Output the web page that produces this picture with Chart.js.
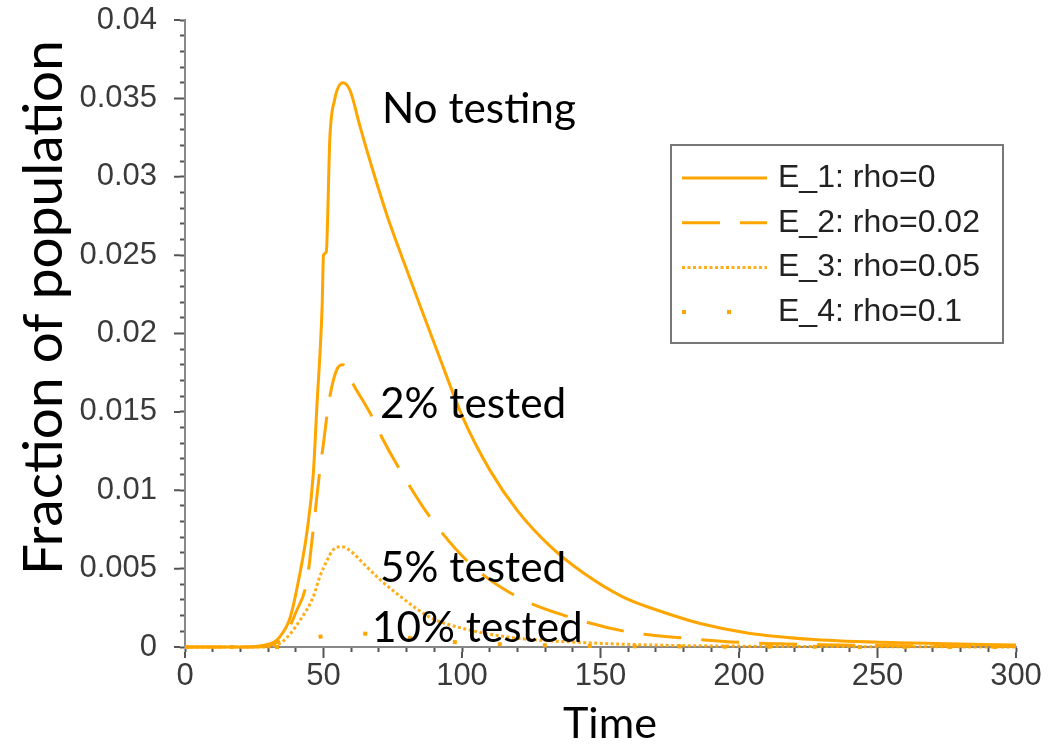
<!DOCTYPE html>
<html>
<head>
<meta charset="utf-8">
<script src="https://cdn.jsdelivr.net/npm/chart.js@4.4.0/dist/chart.umd.min.js"></script>
<style>
  html, body { margin: 0; padding: 0; background: #fff; }
</style>
</head>
<body>
<canvas id="chart" width="1054" height="744"></canvas>
<script>
// --- data (time, fraction of population) ---
const timeE1 = [0, 20, 28, 32, 34, 38, 41.5, 44, 46.3, 47.6, 49.5, 50, 51, 52.3, 54, 57, 59.6, 63.2, 68, 73, 78.7, 85, 91, 100.4, 110, 120, 132, 144, 158, 173, 186, 203, 227, 263, 300];
const fracE1 = [0, 0, 0.0001, 0.0003, 0.0006, 0.0019, 0.0047, 0.0073, 0.011, 0.0153, 0.0217, 0.025, 0.0252, 0.0325, 0.0349, 0.036, 0.0355, 0.0332, 0.0303, 0.0275, 0.0247, 0.0217, 0.0189, 0.0146, 0.0113, 0.0087, 0.0064, 0.0047, 0.0032, 0.0022, 0.0015, 0.0009, 0.00048, 0.00025, 0.00012];

const timeE2 = [0, 25, 32, 36, 40, 44, 46.3, 48.7, 50, 51.2, 52.3, 54.8, 57, 60.6, 67.5, 71, 77.6, 88.4, 103, 120, 139, 160, 180, 200, 230, 260, 300];
const fracE2 = [0, 0, 0.0002, 0.0007, 0.0022, 0.0042, 0.0075, 0.0113, 0.013, 0.0147, 0.016, 0.0177, 0.018, 0.0168, 0.0147, 0.0134, 0.0113, 0.0083, 0.0053, 0.0032, 0.0019, 0.00096, 0.00057, 0.0003, 0.00015, 0.00008, 0.00004];

const timeE3 = [0, 30, 34, 36.8, 41.5, 46.3, 48.7, 51.2, 53.5, 56.6, 60.6, 64, 70.4, 76.5, 88.4, 100, 118, 142, 170, 220, 300];
const fracE3 = [0, 0, 0.0002, 0.0006, 0.0017, 0.0032, 0.0045, 0.0055, 0.0062, 0.0064, 0.006, 0.0054, 0.0043, 0.0034, 0.0019, 0.0012, 0.0006, 0.0003, 0.00012, 0.00004, 0];

const timeE4 = [0, 35, 40, 45, 50, 55, 60, 65, 75, 90, 110, 150, 200, 300];
const fracE4 = [0, 0, 0.0002, 0.0005, 0.0007, 0.00085, 0.0009, 0.00085, 0.0007, 0.0004, 0.0002, 0.00006, 0.00002, 0];

const seriesLabels = ['E_1: rho=0', 'E_2: rho=0.02', 'E_3: rho=0.05', 'E_4: rho=0.1'];

const noteTexts = ['No testing', '2% tested', '5% tested', '10% tested'];
const noteTime = [71.1, 70.4, 70.4, 67.5];
const noteFrac = [0.0334, 0.0146, 0.00415, 0.00032];

const xTitle = 'Time';
const yTitle = 'Fraction of population';

// --- styles ---
const ORANGE = '#FFA500';
const TICK_FONT = '"Liberation Sans", Arial, sans-serif';
const NOTE_FONT = 'Lato, "Open Sans", sans-serif';

function pairs(xs, ys) {
    return xs.map((x, i) => ({ x: x, y: ys[i] }));
}

function fitSize(ctx, text, family, width) {
    ctx.font = `100px ${family}`;
    return 100 * width / ctx.measureText(text).width;
}

// keep the plot box where the reference has it: no extra padding from tick labels
function noLabelPadding(scale) {
    scale.paddingTop = 0;
    scale.paddingBottom = 0;
    scale.paddingLeft = 0;
    scale.paddingRight = 0;
}

const baseLine = {
    borderColor: ORANGE,
    borderWidth: 3,
    pointRadius: 0,
    fill: false,
    cubicInterpolationMode: 'monotone',
    borderCapStyle: 'butt',
    clip: 4
};

const decorPlugin = {
    id: 'decor',
    afterDraw(chart) {
        const ctx = chart.ctx;
        const xs = chart.scales.x;
        const ys = chart.scales.y;
        const area = chart.chartArea;
        ctx.save();

        // longer major ticks
        ctx.strokeStyle = '#555';
        ctx.lineWidth = 2;
        ctx.beginPath();
        for (let v = 0; v <= 8; v++) {
            const py = ys.getPixelForValue(v * 0.005);
            ctx.moveTo(area.left - 5, py);
            ctx.lineTo(area.left - 11, py);
        }
        for (let t = 0; t <= 300; t += 50) {
            const px = xs.getPixelForValue(t);
            ctx.moveTo(px, area.bottom + 5);
            ctx.lineTo(px, area.bottom + 11);
        }
        ctx.stroke();

        // annotations on the curves
        let s = 0;
        const noteWidths = [190, 188, 188, 211];
        noteTexts.forEach((t, i) => { s += fitSize(ctx, t, NOTE_FONT, noteWidths[i]); });
        const noteSize = s / noteTexts.length;
        ctx.fillStyle = '#000';
        ctx.textBaseline = 'alphabetic';
        ctx.textAlign = 'left';
        ctx.font = `${noteSize}px ${NOTE_FONT}`;
        noteTexts.forEach((t, i) => {
            ctx.fillText(t, xs.getPixelForValue(noteTime[i]), ys.getPixelForValue(noteFrac[i]));
        });

        // axis titles
        const xSize = fitSize(ctx, xTitle, NOTE_FONT, 94);
        ctx.font = `${xSize}px ${NOTE_FONT}`;
        ctx.fillText(xTitle, 563, 738);

        const ySize = fitSize(ctx, yTitle, NOTE_FONT, 535);
        ctx.font = `${ySize}px ${NOTE_FONT}`;
        ctx.save();
        ctx.translate(62, 575);
        ctx.rotate(-Math.PI / 2);
        ctx.fillText(yTitle, 0, 0);
        ctx.restore();

        // legend box
        ctx.strokeStyle = '#777';
        ctx.lineWidth = 2;
        ctx.strokeRect(671, 145, 332, 198);
        ctx.font = `32px ${TICK_FONT}`;
        ctx.textBaseline = 'middle';
        chart.data.datasets.forEach((ds, i) => {
            const ry = 178 + i * 44.7;
            ctx.save();
            ctx.strokeStyle = ds.borderColor;
            ctx.lineWidth = ds.borderWidth;
            ctx.setLineDash(ds.borderDash || []);
            ctx.beginPath();
            ctx.moveTo(682, ry);
            ctx.lineTo(767, ry);
            ctx.stroke();
            ctx.restore();
            ctx.fillStyle = '#222';
            ctx.fillText(ds.label, 778, ry);
        });

        ctx.restore();
    }
};

new Chart(document.getElementById('chart'), {
    type: 'line',
    data: {
        datasets: [
            Object.assign({}, baseLine, { label: seriesLabels[0], data: pairs(timeE1, fracE1) }),
            Object.assign({}, baseLine, { label: seriesLabels[1], data: pairs(timeE2, fracE2), borderDash: [38, 20] }),
            Object.assign({}, baseLine, { label: seriesLabels[2], data: pairs(timeE3, fracE3), borderDash: [3, 2.5], borderColor: 'rgba(255,165,0,0.9)', borderWidth: 3 }),
            Object.assign({}, baseLine, { label: seriesLabels[3], data: pairs(timeE4, fracE4), borderDash: [4, 41], borderWidth: 4 })
        ]
    },
    options: {
        responsive: false,
        animation: false,
        events: [],
        layout: { padding: { left: 0, top: 20, right: 38, bottom: 0 } },
        plugins: { legend: { display: false }, tooltip: { enabled: false } },
        scales: {
            x: {
                type: 'linear',
                min: 0, max: 300,
                afterFit: (scale) => { scale.height = 97; noLabelPadding(scale); },
                grid: { drawOnChartArea: false, tickLength: 5, tickColor: '#555', tickWidth: 2 },
                border: { color: '#888', width: 2 },
                ticks: {
                    stepSize: 10, maxTicksLimit: 100, autoSkip: false, maxRotation: 0,
                    padding: 6,
                    color: '#3a3a3a',
                    font: { family: TICK_FONT, size: 31 },
                    callback: (v) => (Math.round(v) % 50 === 0 ? String(Math.round(v)) : '')
                }
            },
            y: {
                min: 0, max: 0.04,
                afterFit: (scale) => { scale.width = 185; noLabelPadding(scale); },
                grid: { drawOnChartArea: false, tickLength: 5, tickColor: '#555', tickWidth: 2 },
                border: { color: '#888', width: 2 },
                ticks: {
                    stepSize: 0.001, maxTicksLimit: 100, autoSkip: false,
                    padding: 23,
                    color: '#3a3a3a',
                    font: { family: TICK_FONT, size: 31 },
                    callback: (v) => {
                        const k = Math.round(v * 1000);
                        return k % 5 === 0 ? String(k / 1000) : '';
                    }
                }
            }
        }
    },
    plugins: [decorPlugin]
});
</script>
</body>
</html>
